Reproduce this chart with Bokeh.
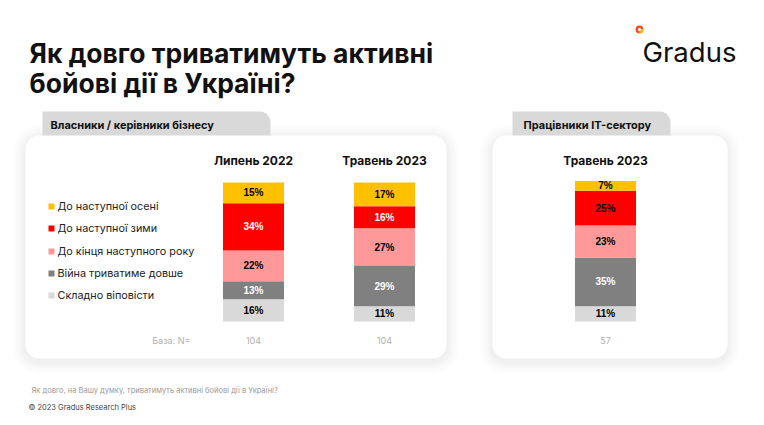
from bokeh.plotting import figure
from bokeh.models import ColumnDataSource, Range1d, BoxAnnotation
from bokeh.core.properties import value
from bokeh.embed import file_html
from bokeh.resources import INLINE

# --- data ---
answers = [
    "До наступної осені",
    "До наступної зими",
    "До кінця наступного року",
    "Війна триватиме довше",
    "Складно віповісти",
]
groups = ["Власники / керівники бізнесу", "Працівники IT-сектору"]
waves = ["Липень 2022", "Травень 2023", "Травень 2023"]
autumn = [15, 17, 7]
winter = [34, 16, 25]
year_end = [22, 27, 23]
longer = [13, 29, 35]
hard = [16, 11, 11]
base_n = ["104", "104", "57"]

# --- styles / layout ---
FONT = "Inter"
BAR_FONT = "Liberation Sans"
colors = ["#FFC000", "#FF0000", "#FF9999", "#808080", "#D9D9D9"]
label_colors = [
    ["black", "black", "black"],
    ["white", "white", "black"],
    ["black", "black", "black"],
    ["white", "white", "white"],
    ["black", "black", "black"],
]
bar_x = [253, 384, 605]
legend_y = [206, 228, 251, 273, 295]
PX_PER_PCT = 1.39
BASE = 321  # pixel row of 0%
W, H = 756, 417


def Y(ref):
    # page pixel row -> data y
    return 425 - ref


p = figure(
    width=W,
    height=H,
    x_range=Range1d(0, W),
    y_range=Range1d(425 - H, 425),
    x_axis_location=None,
    y_axis_location=None,
    toolbar_location=None,
    output_backend="svg",
    min_border=0,
)
p.grid.visible = False
p.outline_line_color = None
p.background_fill_color = "white"
p.border_fill_color = "white"
p.extra_y_ranges = {
    "pct": Range1d((425 - H - Y(BASE)) / PX_PER_PCT, (425 - Y(BASE)) / PX_PER_PCT)
}


def box(l, r, t, b, color, radius=0, alpha=1.0):
    p.add_layout(
        BoxAnnotation(
            left=l, right=r, top=Y(t), bottom=Y(b),
            fill_color=color, fill_alpha=alpha, line_color=None,
            border_radius=radius, level="underlay", editable=False,
        )
    )


cards = [(25, 446, 135, 358), (492, 727, 135, 358)]
tabs = [(42, 270, 111, 145), (512, 670, 111, 145)]

for l, r, t, b in cards:
    for d in [12, 9, 6, 4, 2]:
        box(l - d, r + d, t - d + 2, b + d + 3, "#000000", 14 + d, 0.012)
for l, r, t, b in tabs:
    box(l, r, t, b, "#D9D9D9", (0, 11, 0, 0))
for l, r, t, b in cards:
    box(l, r, t, b, "white", 14)

# --- title & logo ---
p.text(x=[29, 29], y=[Y(52), Y(82)],
       text=["Як довго триватимуть активні", "бойові дії в Україні?"],
       text_font=value(FONT), text_font_style="bold", text_font_size="26.5px",
       text_color="#111111", text_baseline="alphabetic")
p.text(x=[642], y=[Y(51)], text=["Gradus"], text_font=value(FONT),
       text_font_size="27.5px", text_color="#111111", text_baseline="alphabetic")
p.annulus(x=[639], y=[Y(29)], inner_radius=1.6, outer_radius=3.9,
          fill_color="#F04E23", line_color=None)
p.annular_wedge(x=[639], y=[Y(29)], inner_radius=1.6, outer_radius=3.9,
                start_angle=-1.6, end_angle=0.2, fill_color="#FFC000",
                line_color=None)

# --- tab captions ---
p.text(x=[50, 523], y=[Y(124), Y(124)], text=groups, text_font=value(FONT),
       text_font_style="bold", text_font_size="11px", text_color="#111111",
       text_baseline="middle")

# --- column headings ---
p.text(x=bar_x, y=[Y(160)] * 3, text=waves, text_font=value(FONT),
       text_font_style="bold", text_font_size="12px", text_color="#111111",
       text_align="center", text_baseline="middle")

# --- legend ---
p.scatter(x=[51] * 5, y=[Y(v) for v in legend_y], marker="square", size=6,
          fill_color=colors, line_color=None)
p.text(x=[57] * 5, y=[Y(v) for v in legend_y], text=answers,
       text_font=value(FONT), text_font_size="10.8px", text_color="#222222",
       text_baseline="middle")

# --- stacked bars (bottom to top) ---
series = [autumn, winter, year_end, longer, hard]
keys = ["autumn", "winter", "year_end", "longer", "hard"]
src = ColumnDataSource(dict(x=bar_x, **{k: s for k, s in zip(keys, series)}))
p.vbar_stack(keys[::-1], x="x", width=61, color=colors[::-1], source=src,
             y_range_name="pct", line_color=None)

cum = [0, 0, 0]
for k, s, lc in list(zip(keys, series, label_colors))[::-1]:
    mids = [c + v / 2 for c, v in zip(cum, s)]
    cum = [c + v for c, v in zip(cum, s)]
    p.text(x=bar_x, y=mids, text=[f"{v}%" for v in s], y_range_name="pct",
           text_font=value(BAR_FONT), text_font_style="bold",
           text_font_size="10px", text_color=lc, text_align="center",
           text_baseline="middle")

# --- base row ---
p.text(x=[190], y=[Y(340)], text=["База: N="], text_font=value(FONT),
       text_font_size="9px", text_color="#B0B0B0", text_align="right",
       text_baseline="middle")
p.text(x=bar_x, y=[Y(340)] * 3, text=base_n, text_font=value(FONT),
       text_font_size="9px", text_color="#B0B0B0", text_align="center",
       text_baseline="middle")

# --- footer ---
p.text(x=[31], y=[Y(390)],
       text=["Як довго, на Вашу думку, триватимуть активні бойові дії в Україні?"],
       text_font=value(FONT), text_font_size="7.5px", text_color="#999999",
       text_baseline="middle")
p.text(x=[28], y=[Y(407)], text=["© 2023 Gradus Research Plus"],
       text_font=value(FONT), text_font_size="7.5px", text_color="#444444",
       text_baseline="middle")

open("out.html", "w").write(file_html(p, INLINE))
